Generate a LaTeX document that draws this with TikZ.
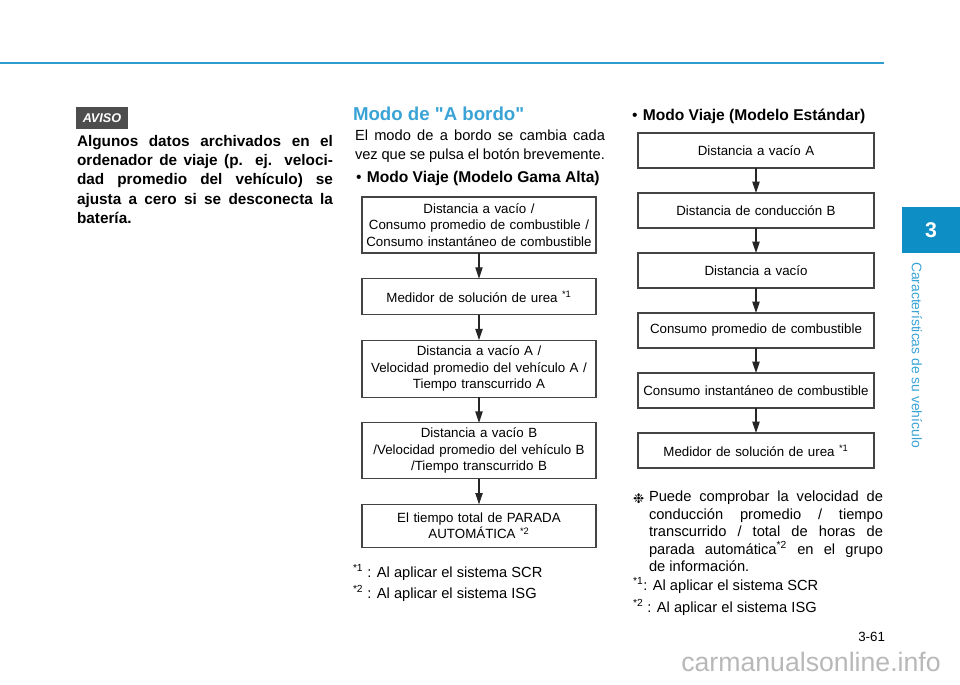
\documentclass[tikz,border=0pt]{standalone}
\usepackage{fontspec}
\setmainfont{Liberation Sans}[Ligatures=TeXOff]
\newfontfamily\symfont{DejaVu Sans}
\usetikzlibrary{arrows.meta,positioning}
\definecolor{hblue}{HTML}{3AA3D5}
\definecolor{tabblue}{HTML}{0D8FC5}
\definecolor{rulblue}{HTML}{2E9CCF}
\definecolor{boxline}{HTML}{444444}
\definecolor{avgray}{HTML}{4D4D4D}
\definecolor{wmgray}{HTML}{B8B8B8}
\newcommand{\fnref}[1]{\textsuperscript{*#1}}
\newcommand{\fsz}[2]{\fontsize{#1}{#2}\selectfont}

\begin{document}
\begin{tikzpicture}[
      x=0.75pt,y=-0.75pt,
      every node/.style={inner sep=0pt,outer sep=0pt},
      flow/.style={draw=boxline,line width=0.8pt,align=center,
                   inner xsep=2pt,font=\fsz{10}{12.4}},
      lflow/.style={flow,text width=171.5pt},
      rflow/.style={flow,text width=173pt,minimum height=26.25pt},
      para/.style={anchor=north west,align=justify,font=\fsz{11}{14.3}},
      arr/.style={-{Triangle[length=8.5pt,width=5.5pt]},black!85,line width=0.8pt}
    ]
      \useasboundingbox (0,0) rectangle (960,685);
      % page head and side tab
      \draw[rulblue,line width=2.2pt] (0,63) -- (884,63);
      \node[fill=tabblue,minimum width=43.5pt,minimum height=34.5pt,
            text=white,font=\bfseries\fsz{16}{18}] (tab) at (931,230) {3};
      \node[rotate=-90,text=hblue,font=\fsz{10.4}{12}] (chap) at (917,355)
        {Características de su vehículo};

      % left column
      \node[fill=avgray,minimum width=39pt,minimum height=16.5pt,text=white,
            font=\bfseries\itshape\fsz{9.5}{11}] (aviso) at (102,118) {AVISO};
      \node[para,text width=192pt,font=\bfseries\fsz{11.5}{14.5}] (warn) at (77,135)
        {Algunos datos archivados en el\linebreak
         ordenador de viaje (p. ej. veloci-\linebreak
         dad promedio del vehículo) se\linebreak
         ajusta a cero si se desconecta la\linebreak
         batería.};

      % middle column
      \node[anchor=base west,text=hblue,font=\bfseries\fsz{14}{16}] (head) at (353,120)
        {Modo de "A bordo"};
      \node[para,text width=187.5pt] (intro) at (355,130)
        {El modo de a bordo se cambia cada\linebreak
         vez que se pulsa el botón brevemente.};
      \node[anchor=base west,font=\fsz{11.7}{14}] (galta) at (356,182)
        {\textbullet\hspace{4pt}\textbf{Modo Viaje (Modelo Gama Alta)}};

      \node[lflow,minimum height=42pt] (g1) at (479,225)
        {Distancia a vacío /\\Consumo promedio de combustible /\\Consumo instantáneo de combustible};
      \node[lflow,minimum height=27pt,below=19.2pt of g1] (g2)
        {Medidor de solución de urea \fnref{1}};
      \node[lflow,minimum height=42.75pt,below=19.2pt of g2] (g3)
        {Distancia a vacío A /\\Velocidad promedio del vehículo A /\\Tiempo transcurrido A};
      \node[lflow,minimum height=42pt,below=19.2pt of g3] (g4)
        {Distancia a vacío B\\/Velocidad promedio del vehículo B\\/Tiempo transcurrido B};
      \node[lflow,minimum height=32.25pt,below=19.2pt of g4] (g5)
        {El tiempo total de PARADA\\AUTOMÁTICA \fnref{2}};
      \foreach \a/\b in {g1/g2,g2/g3,g3/g4,g4/g5}
        \draw[arr] (\a) -- (\b);

      \node[anchor=base west,font=\fsz{11}{13}] (gn1) at (353,577)
        {\fnref{1} : Al aplicar el sistema SCR};
      \node[anchor=base west,font=\fsz{11}{13}] (gn2) at (353,598)
        {\fnref{2} : Al aplicar el sistema ISG};

      % right column
      \node[anchor=base west,font=\fsz{11.7}{14}] (estd) at (632,120)
        {\textbullet\hspace{4pt}\textbf{Modo Viaje (Modelo Estándar)}};
      \node[rflow] (s1) at (756,150.5) {Distancia a vacío A};
      \node[rflow,below=18.75pt of s1] (s2) {Distancia de conducción B};
      \node[rflow,below=18.75pt of s2] (s3) {Distancia a vacío};
      \node[rflow,below=18.75pt of s3] (s4) {Consumo promedio de combustible};
      \node[rflow,below=18.75pt of s4] (s5) {Consumo instantáneo de combustible};
      \node[rflow,below=18.75pt of s5] (s6) {Medidor de solución de urea \fnref{1}};
      \foreach \a/\b in {s1/s2,s2/s3,s3/s4,s4/s5,s5/s6}
        \draw[arr] (\a) -- (\b);

      \node[anchor=base west,font=\symfont\fsz{10}{12}] (mark) at (633,503) {❉};
      \node[para,text width=175.5pt,font=\fsz{11}{13.1}] (note) at (649,491)
        {Puede comprobar la velocidad de\linebreak
         conducción promedio / tiempo\linebreak
         transcurrido / total de horas de\linebreak
         parada automática\fnref{2} en el grupo\linebreak
         de información.};
      \node[anchor=base west,font=\fsz{11}{13}] (sn1) at (633,590)
        {\fnref{1}: Al aplicar el sistema SCR};
      \node[anchor=base west,font=\fsz{11}{13}] (sn2) at (633,612)
        {\fnref{2} : Al aplicar el sistema ISG};

      % page foot
      \node[anchor=base east,font=\fsz{10}{12}] (pnum) at (885,641) {3-61};
      \node[text=wmgray,font=\fsz{20}{22}] (wm) at (811,662) {carmanualsonline.info};
    \end{tikzpicture}
\end{document}
